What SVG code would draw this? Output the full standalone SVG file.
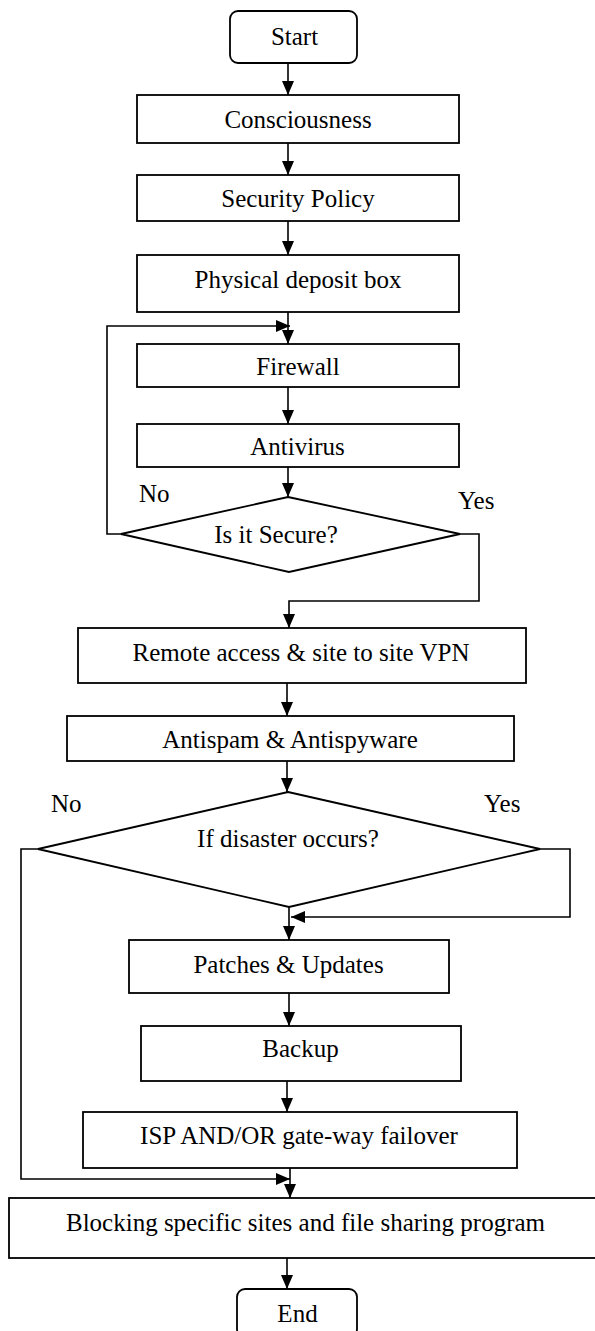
<svg xmlns="http://www.w3.org/2000/svg" width="595" height="1331" viewBox="0 0 595 1331">
<style>
.box{fill:#fff;stroke:#000;stroke-width:1.8}
.t{font-family:"Liberation Serif","Times New Roman",serif;font-size:25px;fill:#000;text-anchor:middle}
.l{font-family:"Liberation Serif","Times New Roman",serif;font-size:25px;fill:#000}
.c{fill:none;stroke:#000;stroke-width:1.6}
</style>
<defs>
<marker id="ah" markerUnits="userSpaceOnUse" markerWidth="15" markerHeight="13" refX="14" refY="6" orient="auto">
<path d="M0,0 L14,6 L0,12 z" fill="#000"/>
</marker>
</defs>
<rect width="595" height="1331" fill="#fff"/>
<g id="connectors">
<path class="c" d="M288,63 V95" marker-end="url(#ah)"/>
<path class="c" d="M288,143 V175" marker-end="url(#ah)"/>
<path class="c" d="M288,221 V255" marker-end="url(#ah)"/>
<path class="c" d="M288,312 V344" marker-end="url(#ah)"/>
<path class="c" d="M121,534 H107 V326 H290" marker-end="url(#ah)"/>
<path class="c" d="M288,387 V424" marker-end="url(#ah)"/>
<path class="c" d="M288,467 V497" marker-end="url(#ah)"/>
<path class="c" d="M460,534 H479 V601 H289 V628" marker-end="url(#ah)"/>
<path class="c" d="M287,683 V716" marker-end="url(#ah)"/>
<path class="c" d="M287,761 V792" marker-end="url(#ah)"/>
<path class="c" d="M540,849 H570 V917 H291" marker-end="url(#ah)"/>
<path class="c" d="M289,907 V940" marker-end="url(#ah)"/>
<path class="c" d="M289,993 V1026" marker-end="url(#ah)"/>
<path class="c" d="M287,1081 V1112" marker-end="url(#ah)"/>
<path class="c" d="M290,1168 V1198" marker-end="url(#ah)"/>
<path class="c" d="M38,849 H21 V1179 H290" marker-end="url(#ah)"/>
<path class="c" d="M287,1258 V1289" marker-end="url(#ah)"/>
</g>
<g id="start"><rect class="box" x="230" y="11" width="127" height="52" rx="8"/><text class="t" x="294.5" y="45">Start</text></g>
<g id="consciousness"><rect class="box" x="137" y="95" width="322" height="48"/><text class="t" x="298" y="128">Consciousness</text></g>
<g id="security-policy"><rect class="box" x="137" y="175" width="322" height="46"/><text class="t" x="298" y="207">Security Policy</text></g>
<g id="physical-deposit"><rect class="box" x="137" y="255" width="322" height="57"/><text class="t" x="298" y="288">Physical deposit box</text></g>
<g id="firewall"><rect class="box" x="137" y="344" width="322" height="43"/><text class="t" x="298" y="375">Firewall</text></g>
<g id="antivirus"><rect class="box" x="137" y="424" width="322" height="43"/><text class="t" x="297.5" y="455">Antivirus</text></g>
<g id="is-secure"><polygon class="box" points="288,497 460,534 289,572 121,534"/><text class="t" x="276" y="543">Is it Secure?</text></g>
<g id="labels1"><text class="l" x="139" y="502">No</text><text class="l" x="458" y="509">Yes</text></g>
<g id="remote-vpn"><rect class="box" x="78" y="628" width="448" height="55"/><text class="t" x="301" y="661">Remote access &amp; site to site VPN</text></g>
<g id="antispam"><rect class="box" x="67" y="716" width="447" height="45"/><text class="t" x="290" y="748">Antispam &amp; Antispyware</text></g>
<g id="disaster"><polygon class="box" points="288,792 540,849 289,907 38,849"/><text class="t" x="288" y="847">If disaster occurs?</text></g>
<g id="labels2"><text class="l" x="51" y="812">No</text><text class="l" x="484" y="812">Yes</text></g>
<g id="patches"><rect class="box" x="129" y="940" width="320" height="53"/><text class="t" x="288.5" y="973">Patches &amp; Updates</text></g>
<g id="backup"><rect class="box" x="141" y="1026" width="320" height="55"/><text class="t" x="300.5" y="1057">Backup</text></g>
<g id="isp-failover"><rect class="box" x="83" y="1112" width="434" height="56"/><text class="t" x="299" y="1144">ISP AND/OR gate-way failover</text></g>
<g id="blocking"><rect class="box" x="9" y="1198" width="592" height="60"/><text class="t" x="305.5" y="1231">Blocking specific sites and file sharing program</text></g>
<g id="end"><rect class="box" x="237" y="1289" width="120" height="48" rx="8"/><text class="t" x="297.5" y="1322">End</text></g>
</svg>
